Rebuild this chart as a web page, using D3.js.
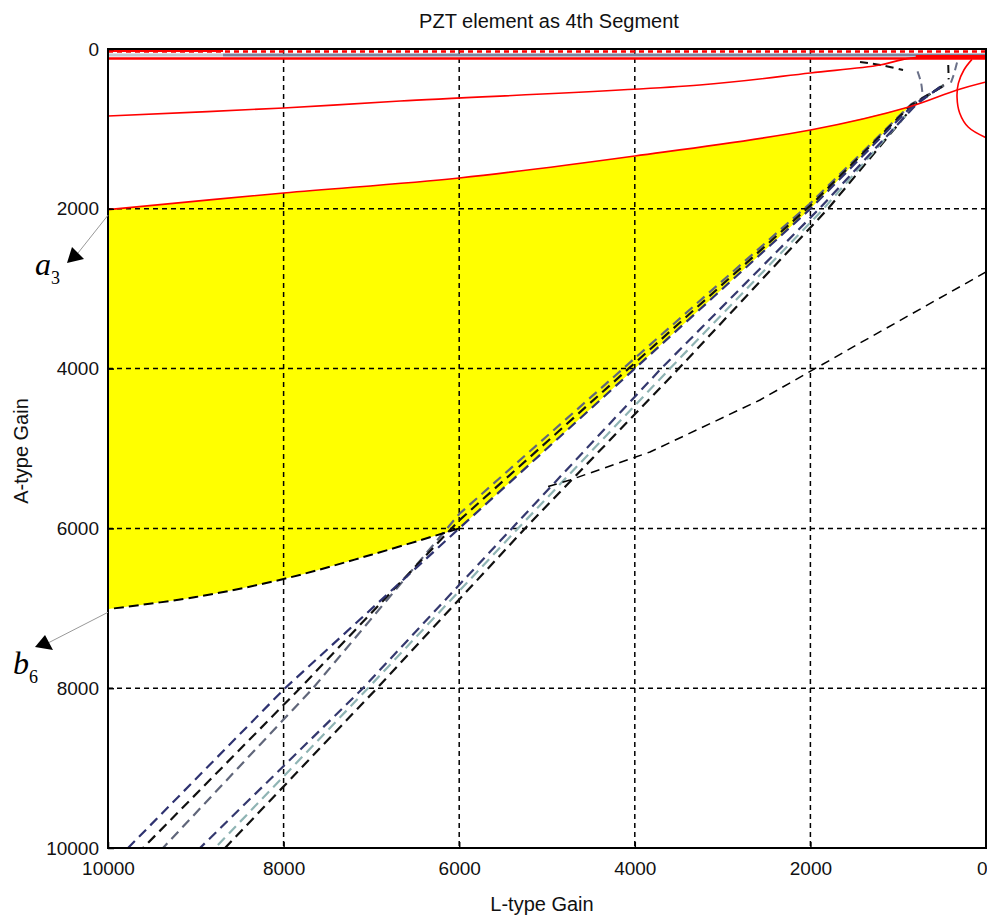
<!DOCTYPE html>
<html>
<head>
<meta charset="utf-8">
<script src="https://cdn.jsdelivr.net/npm/d3@7"></script>
<style>
  body { margin: 0; background: #fff; }
  svg { display: block; font-family: "Liberation Sans", Arial, sans-serif; }
</style>
</head>
<body>
<svg id="chart" width="987" height="919"></svg>
<script>
const xTicks = [10000, 8000, 6000, 4000, 2000, 0];
const yTicks = [0, 2000, 4000, 6000, 8000, 10000];

// boundary of the feasible (yellow) region
const regionTop = [[10000, 2010], [8000, 1802], [6000, 1614], [4000, 1339], [2000, 1014], [880, 726]];
const regionDiag = [[880, 726], [2000, 2000], [4000, 4000], [6000, 6000]];
const regionBottom = [[6000, 6000], [7000, 6330], [8000, 6633], [9000, 6859], [10000, 7010]];

// red curves
const redUpper = regionTop.concat([[330, 513], [0, 413]]);
const redMiddle = [[10000, 838], [8000, 738], [6670, 651], [3260, 451], [2000, 300], [1207, 200], [900, 120], [500, 85]];
const redArc = [[160, 130], [250, 260], [315, 430], [330, 600], [300, 800], [200, 980], [0, 1110]];

// dashed bundles (a: along region edge, b: right of it)
const bundleA1 = [[520, 480], [850, 720], [2000, 2000], [4000, 4000], [6000, 6000], [7984, 8000], [9772, 10000]];
const bundleA2 = [[500, 470], [850, 700], [2000, 1960], [4000, 3930], [6000, 5900], [7813, 8000], [9601, 10000]];
const bundleA3 = [[480, 460], [850, 690], [2000, 1930], [4000, 3870], [6000, 5820], [7665, 8000], [9374, 10000]];
const bundleB1 = [[520, 470], [800, 700], [1900, 2000], [3700, 4000], [5400, 6000], [7096, 8000], [8952, 10000]];
const bundleB2 = [[500, 460], [800, 690], [1850, 2000], [3600, 4000], [5330, 6000], [7039, 8000], [8781, 10000]];
const bundleB3 = [[480, 450], [800, 680], [1800, 2000], [3500, 4000], [5250, 6000], [6936, 8000], [8667, 10000]];
const sideLine = [[0, 2791], [1435, 3680], [2574, 4393], [3827, 5044], [4738, 5394], [5000, 5480]];
const topArcs = [
  [[1435, 163], [1200, 200], [945, 263]],
  [[780, 280], [740, 420], [720, 600]],
  [[430, 200], [425, 380]],
  [[330, 170], [370, 330], [420, 480]]
];

const x = d3.scaleLinear().domain([10000, 0]).range([108, 986]);
const y = d3.scaleLinear().domain([0, 10000]).range([49, 848]);

const svg = d3.select("#chart");
const line = d3.line().x(d => x(d[0])).y(d => y(d[1]));
const curve = d3.line().x(d => x(d[0])).y(d => y(d[1])).curve(d3.curveCatmullRom);

svg.append("clipPath").attr("id", "clip")
  .append("rect").attr("x", 108).attr("y", 49).attr("width", 878).attr("height", 799);

const plot = svg.append("g").attr("clip-path", "url(#clip)");

// yellow region
plot.append("path")
  .attr("d", curve(regionTop) + "L" + line(regionDiag).slice(1) + "L" + curve(regionBottom).slice(1) + "Z")
  .attr("fill", "#ffff00");

// grid
plot.selectAll(".gx").data(xTicks.slice(1, -1)).enter().append("line")
  .attr("x1", d => x(d)).attr("x2", d => x(d)).attr("y1", y(0)).attr("y2", y(10000))
  .attr("stroke", "#000").attr("stroke-width", 1.5).attr("stroke-dasharray", "5,4");
plot.selectAll(".gy").data(yTicks.slice(1, -1)).enter().append("line")
  .attr("y1", d => y(d)).attr("y2", d => y(d)).attr("x1", x(10000)).attr("x2", x(0))
  .attr("stroke", "#000").attr("stroke-width", 1.5).attr("stroke-dasharray", "5,4");

// dashed bundles
const bundles = [
  [bundleB3, "#111111"], [bundleB2, "#8fb4b4"], [bundleB1, "#34386e"],
  [bundleA3, "#60667a"], [bundleA2, "#111111"], [bundleA1, "#2e3270"]
];
bundles.forEach(([pts, col]) => {
  plot.append("path").attr("d", line(pts)).attr("fill", "none")
    .attr("stroke", col).attr("stroke-width", 2.2).attr("stroke-dasharray", "10,6");
});
plot.append("path").attr("d", line(sideLine)).attr("fill", "none")
  .attr("stroke", "#000").attr("stroke-width", 1.5).attr("stroke-dasharray", "9,6");
plot.append("path").attr("d", curve(regionBottom)).attr("fill", "none")
  .attr("stroke", "#000").attr("stroke-width", 2).attr("stroke-dasharray", "10,5");
topArcs.forEach((pts, i) => {
  plot.append("path").attr("d", curve(pts)).attr("fill", "none")
    .attr("stroke", i % 2 ? "#6a7088" : "#111").attr("stroke-width", 2).attr("stroke-dasharray", "8,5");
});

// red curves
[redUpper, redMiddle, redArc].forEach(pts => {
  plot.append("path").attr("d", curve(pts)).attr("fill", "none")
    .attr("stroke", "#ff0000").attr("stroke-width", 1.6);
});

// bands of lines at the top edge
const hline = (v, x0, x1, col, w, dash) => plot.append("line")
  .attr("x1", x(x0)).attr("x2", x(x1)).attr("y1", y(v)).attr("y2", y(v))
  .attr("stroke", col).attr("stroke-width", w).attr("stroke-dasharray", dash || null);
hline(75, 10000, 8690, "#c4c8d0", 3);
hline(75, 8690, 0, "#7c84a0", 3);
hline(120, 10000, 0, "#ff0000", 2.5);
hline(30, 10000, 0, "#ff0000", 2.5, "5,4");
hline(25, 10000, 8690, "#ff0000", 2);
hline(95, 800, 0, "#ff0000", 3);

// frame
svg.append("rect").attr("x", 108).attr("y", 49).attr("width", 878).attr("height", 799)
  .attr("fill", "none").attr("stroke", "#000").attr("stroke-width", 2);

// axes
const fmt = d3.format("d");
const xAxis = svg.append("g").attr("transform", `translate(0,${y(10000)})`)
  .call(d3.axisBottom(x).tickValues(xTicks).tickFormat(fmt).tickSize(-6).tickPadding(14));
const yAxis = svg.append("g").attr("transform", `translate(${x(10000)},0)`)
  .call(d3.axisLeft(y).tickValues(yTicks).tickFormat(fmt).tickSize(-6).tickPadding(9));
[xAxis, yAxis].forEach(a => {
  a.select(".domain").remove();
  a.selectAll(".tick line").attr("stroke", "#000").attr("stroke-width", 1.5);
  a.selectAll("text").attr("font-size", 19).attr("fill", "#111").attr("font-family", "Liberation Sans, Arial, sans-serif");
});
// keep the last x label inside the picture
xAxis.selectAll(".tick text").filter(d => d === 0).attr("text-anchor", "end").attr("dx", 1);

// titles
svg.append("text").attr("x", 549).attr("y", 28).attr("text-anchor", "middle")
  .attr("font-size", 20).attr("fill", "#111").text("PZT element as 4th Segment");
svg.append("text").attr("x", 542).attr("y", 911).attr("text-anchor", "middle")
  .attr("font-size", 20).attr("fill", "#111").text("L-type Gain");
svg.append("text").attr("transform", "translate(28,451) rotate(-90)").attr("text-anchor", "middle")
  .attr("font-size", 20).attr("fill", "#111").text("A-type Gain");

// annotations
const annot = (px, py, tip, b1, b2, letter, sub, tx, ty) => {
  svg.append("line").attr("x1", px).attr("y1", py).attr("x2", (b1[0] + b2[0]) / 2).attr("y2", (b1[1] + b2[1]) / 2)
    .attr("stroke", "#999").attr("stroke-width", 1);
  svg.append("path").attr("d", `M${tip}L${b1}L${b2}Z`).attr("fill", "#000");
  const t = svg.append("text").attr("x", tx).attr("y", ty)
    .attr("font-family", "Liberation Serif, Times New Roman, serif").attr("font-style", "italic")
    .attr("font-size", 32).attr("fill", "#000").text(letter);
  t.append("tspan").attr("font-size", 18).attr("font-style", "normal").attr("dy", 9).text(sub);
};
annot(x(10000), y(2080), [67, 263], [72, 247], [84, 259], "a", "3", 35, 275);
annot(x(10000), y(7050), [35, 647], [45, 635], [53, 650], "b", "6", 13, 674);
</script>
</body>
</html>
